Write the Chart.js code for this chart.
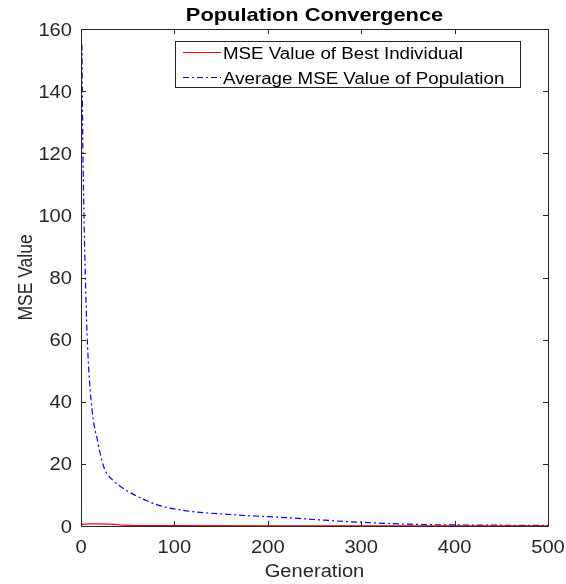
<!DOCTYPE html>
<html>
<head>
<meta charset="utf-8">
<script src="https://cdn.jsdelivr.net/npm/chart.js@4/dist/chart.umd.min.js"></script>
<style>
  html, body { margin: 0; padding: 0; background: #fff; }
  #wrap { width: 566px; height: 584px; }
</style>
</head>
<body>
<div id="wrap"><canvas id="chart" width="566" height="584"></canvas></div>
<script>
// generations sampled along the run
const generations = [1, 2, 3, 4, 5, 6, 7, 8, 9, 10, 11, 12, 13, 15, 17, 20, 25, 30, 35, 40, 50, 60, 70, 80, 90, 100,
  120, 140, 160, 180, 200, 220, 250, 280, 300, 330, 360, 400, 450, 500];
// average MSE of the population at each generation
const avgMse = [155, 122, 103, 88, 76, 66, 58, 52, 47, 43, 40, 37, 34.5, 31, 28.5, 24, 18.5, 16, 14.5, 13.2, 11.2, 9.6, 8.2, 7, 6.1, 5.5,
  4.6, 4.1, 3.7, 3.3, 3.0, 2.7, 2.1, 1.5, 1.2, 0.8, 0.5, 0.35, 0.25, 0.2];
// best individual MSE
const bestGens = [1, 10, 20, 30, 37, 45, 60, 100, 200, 300, 400, 500];
const bestMse = [0.5, 0.7, 0.7, 0.6, 0.5, 0.25, 0.15, 0.1, 0.08, 0.06, 0.05, 0.05];

const xTicks = [0, 100, 200, 300, 400, 500];
const yTicks = [0, 20, 40, 60, 80, 100, 120, 140, 160];

const seriesLabels = ['MSE Value of Best Individual', 'Average MSE Value of Population'];
const seriesColors = ['#ff0000', '#0000ff'];
const seriesDash = [[], [6, 3, 2, 3]];

const FONT = 'Arial, "Liberation Sans", Helvetica, sans-serif';
const TEXT = '#262626';
const SX = 1.15; // horizontal stretch of the figure's text

const toPoints = (xs, ys) => xs.map((x, i) => ({ x, y: ys[i] }));

function text(ctx, str, x, y, align, font, color, sx = SX) {
  ctx.save();
  ctx.translate(x, y);
  ctx.scale(sx, 1);
  ctx.font = font;
  ctx.fillStyle = color;
  ctx.textAlign = align;
  ctx.textBaseline = 'alphabetic';
  ctx.fillText(str, 0, 0);
  ctx.restore();
}

// box, inward ticks on all four sides, labels, titles and the legend
const matlabFrame = {
  id: 'matlabFrame',
  afterDatasetsDraw(chart) {
    const { ctx, chartArea: a, scales: { x, y } } = chart;
    ctx.save();
    ctx.strokeStyle = '#262626';
    ctx.lineWidth = 1;
    ctx.beginPath();
    ctx.rect(Math.round(a.left) + 0.5, Math.round(a.top) + 0.5,
      Math.round(a.right - a.left), Math.round(a.bottom - a.top));
    const len = 5;
    xTicks.forEach(v => {
      const px = Math.round(x.getPixelForValue(v)) + 0.5;
      ctx.moveTo(px, a.bottom); ctx.lineTo(px, a.bottom - len);
      ctx.moveTo(px, a.top); ctx.lineTo(px, a.top + len);
    });
    yTicks.forEach(v => {
      const py = Math.round(y.getPixelForValue(v)) + 0.5;
      ctx.moveTo(a.left, py); ctx.lineTo(a.left + len, py);
      ctx.moveTo(a.right, py); ctx.lineTo(a.right - len, py);
    });
    ctx.stroke();

    // tick labels
    const tickFont = '17.5px ' + FONT;
    xTicks.forEach(v => text(ctx, String(v), x.getPixelForValue(v), a.bottom + 27, 'center', tickFont, TEXT));
    yTicks.forEach(v => text(ctx, String(v), a.left - 9, y.getPixelForValue(v) + 6.5, 'right', tickFont, TEXT));

    // title
    text(ctx, 'Population Convergence', (a.left + a.right) / 2, 21, 'center', 'bold 19px ' + FONT, '#000');

    // axis titles
    text(ctx, 'Generation', (a.left + a.right) / 2, 577, 'center', '17.5px ' + FONT, TEXT);
    ctx.save();
    ctx.scale(SX, 1);
    ctx.translate(32 / SX, (a.top + a.bottom) / 2);
    ctx.rotate(-Math.PI / 2);
    ctx.font = '17.5px ' + FONT;
    ctx.fillStyle = TEXT;
    ctx.textAlign = 'center';
    ctx.fillText('MSE Value', 0, 0);
    ctx.restore();

    // legend
    const lx = 175, ly = 41, lw = 345, lh = 46;
    ctx.fillStyle = '#fff';
    ctx.fillRect(lx, ly, lw, lh);
    ctx.strokeStyle = '#262626';
    ctx.lineWidth = 1;
    ctx.strokeRect(lx + 0.5, ly + 0.5, lw, lh);
    seriesLabels.forEach((label, i) => {
      const cy = 52 + i * 25;
      ctx.strokeStyle = seriesColors[i];
      ctx.lineWidth = 1.2;
      ctx.setLineDash(seriesDash[i]);
      ctx.beginPath();
      ctx.moveTo(lx + 8, cy + 0.5);
      ctx.lineTo(lx + 46, cy + 0.5);
      ctx.stroke();
      ctx.setLineDash([]);
      text(ctx, label, lx + 48, cy + 7, 'left', '16px ' + FONT, '#000', 1.17);
    });
    ctx.restore();
  }
};

new Chart(document.getElementById('chart'), {
  type: 'line',
  data: {
    datasets: [
      {
        label: seriesLabels[0],
        data: toPoints(bestGens, bestMse),
        borderColor: seriesColors[0],
        borderWidth: 1.2,
        borderDash: seriesDash[0],
        pointRadius: 0,
        tension: 0,
      },
      {
        label: seriesLabels[1],
        data: toPoints(generations, avgMse),
        borderColor: seriesColors[1],
        borderWidth: 1.2,
        borderDash: seriesDash[1],
        pointRadius: 0,
        cubicInterpolationMode: 'monotone',
      },
    ],
  },
  options: {
    responsive: false,
    animation: false,
    layout: { padding: { top: 29, right: 18, left: 0, bottom: 0 } },
    plugins: {
      legend: { display: false },
      title: { display: false },
      tooltip: { enabled: false },
    },
    scales: {
      x: {
        type: 'linear',
        min: 0,
        max: 500,
        afterBuildTicks: s => { s.ticks = xTicks.map(v => ({ value: v })); },
        afterFit: s => { s.height = 58; s.paddingLeft = 0; s.paddingRight = 0; },
        grid: { display: false, drawTicks: false },
        border: { display: false },
        ticks: { display: false },
      },
      y: {
        type: 'linear',
        min: 0,
        max: 160,
        afterBuildTicks: s => { s.ticks = yTicks.map(v => ({ value: v })); },
        afterFit: s => { s.width = 81; s.paddingTop = 0; s.paddingBottom = 0; },
        grid: { display: false, drawTicks: false },
        border: { display: false },
        ticks: { display: false },
      },
    },
  },
  plugins: [matlabFrame],
});
</script>
</body>
</html>
